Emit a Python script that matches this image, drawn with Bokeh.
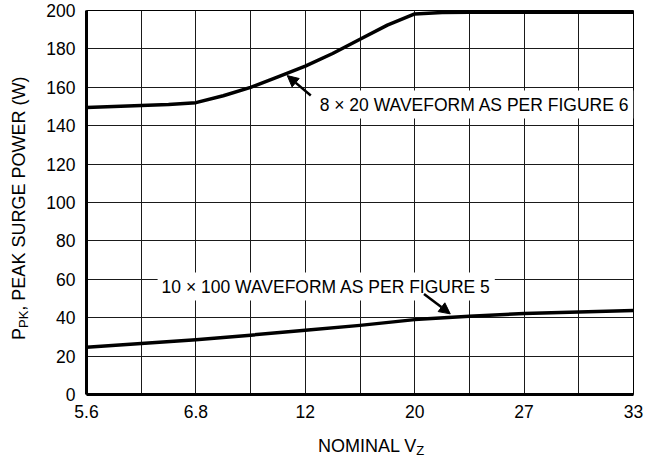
from bokeh.plotting import figure
from bokeh.models import FixedTicker, Label, Arrow, NormalHead, Range1d, Div
from bokeh.layouts import row, column
from bokeh.embed import file_html
from bokeh.resources import INLINE

# ---- data ----
x_tick_labels = ["5.6", "6.8", "12", "20", "27", "33"]
x_tick_pos = [0, 2, 4, 6, 8, 10]
x_grid_pos = [0, 1, 2, 3, 4, 5, 6, 7, 8, 9, 10]
y_ticks = [0, 20, 40, 60, 80, 100, 120, 140, 160, 180, 200]

x_8x20 = [0, 0.5, 1, 1.5, 2, 2.5, 3, 3.5, 4, 4.5, 5, 5.5, 6, 6.5, 7, 8, 9, 10]
p_8x20 = [149.5, 150.0, 150.5, 151.0, 152.0, 155.6, 160.0, 165.4, 171.0, 177.6,
          185.0, 192.4, 198.2, 199.0, 199.1, 199.1, 199.1, 199.1]

x_10x100 = [0, 1, 2, 3, 4, 5, 6, 7, 8, 9, 10]
p_10x100 = [24.6, 26.5, 28.5, 30.9, 33.5, 36.0, 39.0, 40.8, 42.2, 43.0, 43.8]

FONT = "Liberation Sans"
FS = "17.5px"

p = figure(width=619, height=425, output_backend="svg", toolbar_location=None,
           x_range=Range1d(0, 10), y_range=Range1d(0, 200),
           min_border_left=52, min_border_right=20, min_border_top=10,
           min_border_bottom=31, margin=(0, 0, 0, 0))
p.background_fill_color = "white"
p.border_fill_color = "white"
p.outline_line_color = "black"
p.outline_line_width = 1

# axes
p.xaxis.ticker = FixedTicker(ticks=x_tick_pos)
p.xaxis.major_label_overrides = {pos: lab for pos, lab in zip(x_tick_pos, x_tick_labels)}
p.yaxis.ticker = FixedTicker(ticks=y_ticks)
for ax in (p.xaxis[0], p.yaxis[0]):
    ax.axis_line_width = 3
    ax.axis_line_color = "black"
    ax.major_tick_in = 0
    ax.major_tick_out = 0
    ax.minor_tick_in = 0
    ax.minor_tick_out = 0
    ax.major_label_text_font = FONT
    ax.major_label_text_font_size = FS
    ax.major_label_text_color = "black"
p.xaxis.major_label_standoff = 10
p.yaxis.major_label_standoff = 11

# grid
p.xgrid.ticker = FixedTicker(ticks=x_grid_pos)
p.ygrid.ticker = FixedTicker(ticks=y_ticks)
for g in (p.xgrid[0], p.ygrid[0]):
    g.grid_line_color = "#1a1a1a"
    g.grid_line_width = 1
    g.grid_line_alpha = 1.0

# curves
p.line(x_8x20, p_8x20, line_color="black", line_width=3.5, line_join="round")
p.line(x_10x100, p_10x100, line_color="black", line_width=3.5, line_join="round")

# annotations
p.add_layout(Label(x=4.19, y=151.0, text="8 \u00d7 20 WAVEFORM AS PER FIGURE 6",
                   text_align="left", text_baseline="alphabetic",
                   text_font=FONT, text_font_size=FS, text_color="black",
                   background_fill_color="white", padding=4))
p.add_layout(Label(x=1.30, y=56.25, text="10 \u00d7 100 WAVEFORM AS PER FIGURE 5",
                   text_align="left", text_baseline="alphabetic",
                   text_font=FONT, text_font_size=FS, text_color="black",
                   background_fill_color="white", padding=4))

p.add_layout(Arrow(end=NormalHead(size=11, fill_color="black", line_color="black"),
                   x_start=4.10, y_start=155.7, x_end=3.67, y_end=166.1,
                   line_width=2.5, line_color="black"))
p.add_layout(Arrow(end=NormalHead(size=11, fill_color="black", line_color="black"),
                   x_start=6.17, y_start=52.4, x_end=6.65, y_end=42.0,
                   line_width=2.5, line_color="black"))

# axis titles (with subscripts) as real HTML text
y_title_html = (
    '<div style="position:relative;width:34px;height:425px;">'
    '<div style="position:absolute;left:10px;top:340px;transform-origin:0 0;'
    'transform:rotate(-90deg);white-space:nowrap;color:black;'
    "font-family:'Liberation Sans';font-size:18px;line-height:18px;\">"
    'P<span style="font-size:13px;position:relative;top:3px;">PK</span>'
    ', PEAK SURGE POWER (W)</div></div>'
)
x_title_html = (
    '<div style="padding-left:318px;padding-top:12px;white-space:nowrap;color:black;'
    "font-family:'Liberation Sans';font-size:18px;line-height:18px;\">"
    'NOMINAL V<span style="font-size:13px;position:relative;top:3px;">Z</span></div>'
)
ydiv = Div(text=y_title_html, width=34, height=425, margin=(0, 0, 0, 0))
xdiv = Div(text=x_title_html, width=653, height=35, margin=(0, 0, 0, 0))

layout = column(row(ydiv, p, spacing=0), xdiv, spacing=0)

open("out.html", "w").write(file_html(layout, INLINE))
